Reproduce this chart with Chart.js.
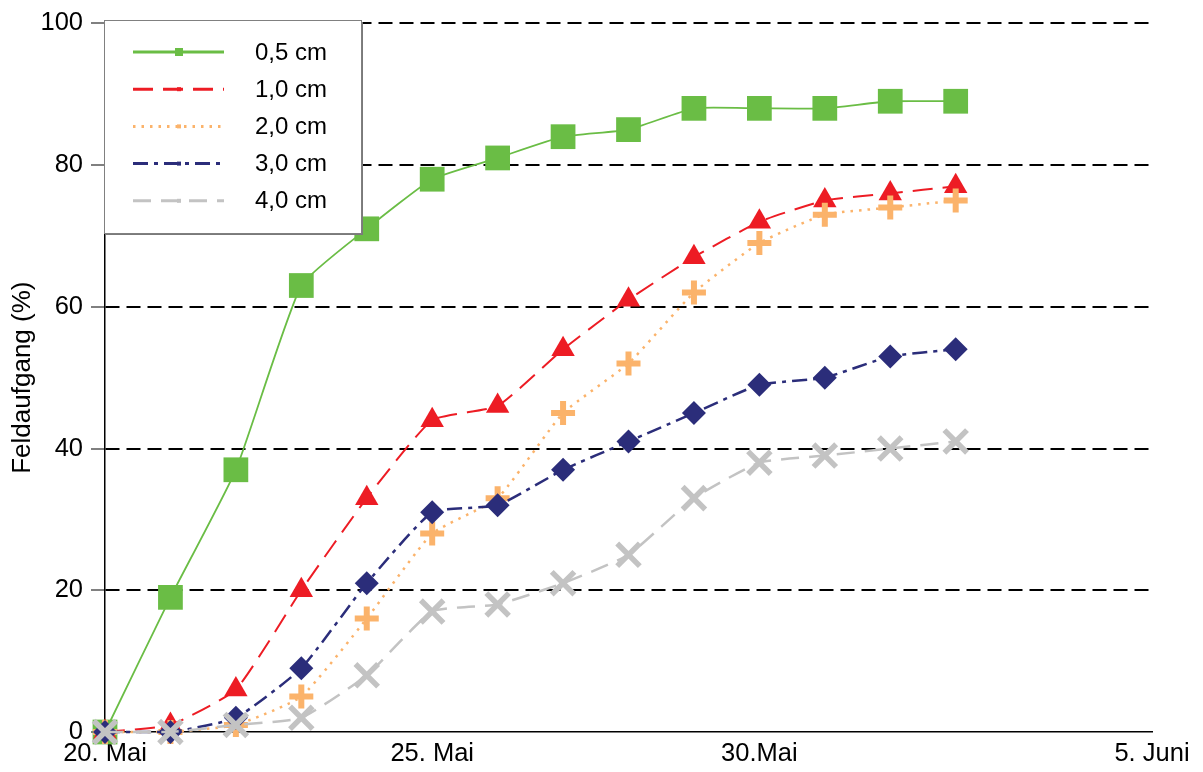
<!DOCTYPE html>
<html>
<head>
<meta charset="utf-8">
<script src="https://cdn.jsdelivr.net/npm/chart.js@4/dist/chart.umd.min.js"></script>
<style>
  html, body { margin: 0; padding: 0; background: #fff; }
  #wrap { width: 1203px; height: 772px; }
</style>
</head>
<body>
<div id="wrap"><canvas id="myChart"></canvas></div>
<script>
// days after 20. Mai
const days = [0, 1, 2, 3, 4, 5, 6, 7, 8, 9, 10, 11, 12, 13];
const xTickValues = [0, 5, 10, 16];
const xTickLabels = ['20. Mai', '25. Mai', '30.Mai', '5. Juni'];
const yTickValues = [0, 20, 40, 60, 80, 100];

const seriesNames = ['0,5 cm', '1,0 cm', '2,0 cm', '3,0 cm', '4,0 cm'];
const depth05 = [0, 19, 37, 63, 71, 78, 81, 84, 85, 88, 88, 88, 89, 89];
const depth10 = [0, 1, 6, 20, 33, 44, 46, 54, 61, 67, 72, 75, 76, 77];
const depth20 = [0, 0, 1, 5, 16, 28, 33, 45, 52, 62, 69, 73, 74, 75];
const depth30 = [0, 0, 2, 9, 21, 31, 32, 37, 41, 45, 49, 50, 53, 54];
const depth40 = [0, 0, 1, 2, 8, 17, 18, 21, 25, 33, 38, 39, 40, 41];

const FONT = '"Liberation Sans", Arial, sans-serif';

function points(values) {
    return days.map((d, i) => ({ x: d, y: values[i] }));
}

// boxed legend in the top left corner, drawn on top of the plot
const boxLegend = {
    id: 'boxLegend',
    afterDraw(chart) {
        const c = chart.ctx;
        const x0 = 104, y0 = 20, w = 257, h = 213;
        c.save();
        c.fillStyle = '#7a7a7a';
        c.fillRect(x0 + 2, y0 + 2, w, h);
        c.fillStyle = '#ffffff';
        c.fillRect(x0, y0, w, h);
        c.strokeStyle = '#808080';
        c.lineWidth = 1;
        c.strokeRect(x0 + 0.5, y0 + 0.5, w, h);

        chart.data.datasets.forEach((ds, i) => {
            const y = 52 + i * 37.2;
            c.setLineDash(ds.borderDash || []);
            c.strokeStyle = ds.borderColor;
            c.lineWidth = 3;
            c.beginPath();
            c.moveTo(133, y);
            c.lineTo(224, y);
            c.stroke();
            c.setLineDash([]);
            c.fillStyle = ds.borderColor;
            if (i === 0) c.fillRect(175, y - 4, 8, 8);
            else c.fillRect(177, y - 2, 4, 4);
            c.fillStyle = '#000';
            c.font = '24px ' + FONT;
            c.textBaseline = 'middle';
            c.fillText(ds.label, 255, y + 1);
        });
        c.restore();
    }
};

new Chart(document.getElementById('myChart'), {
    type: 'line',
    data: {
        datasets: [
            {
                label: seriesNames[0],
                data: points(depth05),
                order: 5,
                borderColor: '#6abd45',
                backgroundColor: '#6abd45',
                borderWidth: 1.8,
                pointStyle: 'rect',
                pointRadius: 17.5,
                pointBackgroundColor: '#6abd45',
                pointBorderWidth: 0
            },
            {
                label: seriesNames[1],
                data: points(depth10),
                order: 4,
                borderColor: '#ed1c24',
                backgroundColor: '#ed1c24',
                borderWidth: 2,
                borderDash: [20, 10],
                pointStyle: 'triangle',
                pointRadius: 13.5,
                pointBackgroundColor: '#ed1c24',
                pointBorderWidth: 0
            },
            {
                label: seriesNames[2],
                data: points(depth20),
                order: 3,
                borderColor: '#fbb36b',
                backgroundColor: '#fbb36b',
                borderWidth: 2.5,
                borderDash: [2.5, 6],
                pointStyle: 'cross',
                pointRadius: 12,
                pointBorderColor: '#fbb36b',
                pointBorderWidth: 6
            },
            {
                label: seriesNames[3],
                data: points(depth30),
                order: 2,
                borderColor: '#2b2d7a',
                backgroundColor: '#2b2d7a',
                borderWidth: 2.5,
                borderDash: [15, 6, 4, 6],
                pointStyle: 'rectRot',
                pointRadius: 12,
                pointBackgroundColor: '#2b2d7a',
                pointBorderWidth: 0
            },
            {
                label: seriesNames[4],
                data: points(depth40),
                order: 1,
                borderColor: '#c3c3c3',
                backgroundColor: '#c3c3c3',
                borderWidth: 2.5,
                borderDash: [18, 10],
                pointStyle: 'crossRot',
                pointRadius: 16,
                pointBorderColor: '#c3c3c3',
                pointBorderWidth: 5.5
            }
        ].map(ds => Object.assign({ tension: 0.15, clip: false, fill: false }, ds))
    },
    options: {
        responsive: true,
        maintainAspectRatio: false,
        animation: false,
        layout: { padding: { left: 0, right: 51, top: 20, bottom: 0 } },
        plugins: {
            legend: { display: false },
            tooltip: { enabled: false }
        },
        scales: {
            x: {
                type: 'linear',
                min: 0,
                max: 16,
                afterBuildTicks: scale => {
                    scale.ticks = xTickValues.map(v => ({ value: v }));
                },
                afterFit: scale => { scale.height = 40; },
                ticks: {
                    autoSkip: false,
                    maxRotation: 0,
                    padding: 7,
                    color: '#000',
                    font: { family: FONT, size: 25.5 },
                    callback: value => xTickLabels[xTickValues.indexOf(value)]
                },
                grid: { display: false, drawTicks: false },
                border: { display: true, color: '#000', width: 1.5 }
            },
            y: {
                min: 0,
                max: 100,
                afterBuildTicks: scale => {
                    scale.ticks = yTickValues.map(v => ({ value: v }));
                },
                afterFit: scale => { scale.width = 105; },
                ticks: {
                    padding: 8,
                    color: '#000',
                    font: { family: FONT, size: 25.5 }
                },
                grid: {
                    color: c => (c.tick && c.tick.value === 0 ? 'rgba(0,0,0,0)' : '#000'),
                    lineWidth: 2,
                    drawTicks: true,
                    tickLength: 14,
                    tickColor: '#808080',
                    tickWidth: 2,
                    tickBorderDash: []
                },
                border: { display: true, color: '#000', width: 1.5, dash: [14, 7] },
                title: {
                    display: true,
                    text: 'Feldaufgang (%)',
                    color: '#000',
                    font: { family: FONT, size: 26 },
                    padding: { top: 7, bottom: 0 }
                }
            }
        }
    },
    plugins: [boxLegend]
});
</script>
</body>
</html>
